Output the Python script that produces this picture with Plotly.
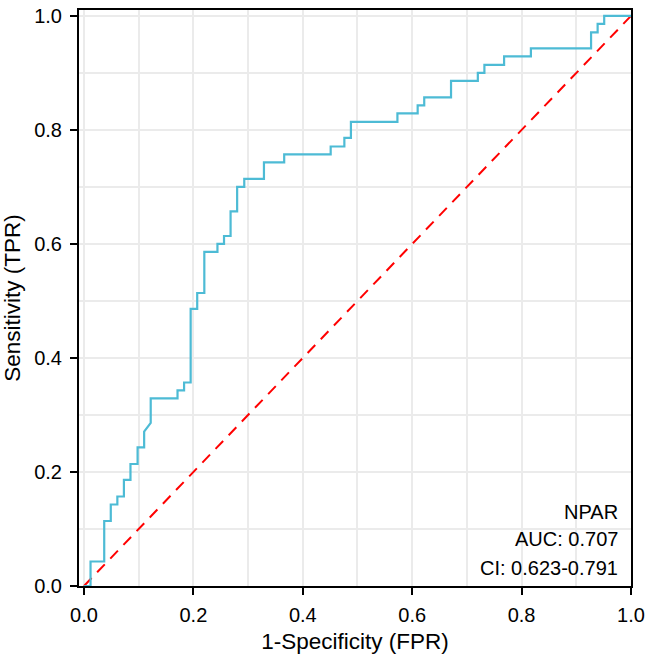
import plotly.graph_objects as go

# ROC curve points (1-specificity, sensitivity)
fpr = [0.0, 0.012, 0.012, 0.037, 0.037, 0.049, 0.049, 0.061, 0.061, 0.073, 0.073,
       0.085, 0.085, 0.098, 0.098, 0.110, 0.110, 0.122, 0.122, 0.171, 0.171,
       0.183, 0.183, 0.195, 0.195, 0.207, 0.207, 0.220, 0.220, 0.244, 0.244,
       0.256, 0.256, 0.268, 0.268, 0.280, 0.280, 0.293, 0.293, 0.329, 0.329,
       0.366, 0.366, 0.451, 0.451, 0.476, 0.476, 0.488, 0.488, 0.573, 0.573,
       0.610, 0.610, 0.622, 0.622, 0.671, 0.671, 0.720, 0.720, 0.732, 0.732,
       0.768, 0.768, 0.817, 0.817, 0.927, 0.927, 0.939, 0.939, 0.951, 0.951, 1.0]
tpr = [0.0, 0.0, 0.043, 0.043, 0.114, 0.114, 0.143, 0.143, 0.157, 0.157, 0.186,
       0.186, 0.214, 0.214, 0.243, 0.243, 0.271, 0.286, 0.329, 0.329, 0.343,
       0.343, 0.357, 0.357, 0.486, 0.486, 0.514, 0.514, 0.586, 0.586, 0.600,
       0.600, 0.614, 0.614, 0.657, 0.657, 0.700, 0.700, 0.714, 0.714, 0.743,
       0.743, 0.757, 0.757, 0.771, 0.771, 0.786, 0.786, 0.814, 0.814, 0.829,
       0.829, 0.843, 0.843, 0.857, 0.857, 0.886, 0.886, 0.900, 0.900, 0.914,
       0.914, 0.929, 0.929, 0.943, 0.943, 0.971, 0.971, 0.986, 0.986, 1.0, 1.0]

ref_x = [0.0, 1.0]
ref_y = [0.0, 1.0]

marker_name = "NPAR"
auc_text = "AUC: 0.707"
ci_text = "CI: 0.623-0.791"

tick_vals = [0.0, 0.2, 0.4, 0.6, 0.8, 1.0]
tick_text = ["0.0", "0.2", "0.4", "0.6", "0.8", "1.0"]

FONT = "Liberation Sans, Arial, sans-serif"

fig = go.Figure()
fig.add_trace(go.Scatter(x=ref_x, y=ref_y, mode="lines",
                         line=dict(color="#FF0000", width=2, dash="11px,8px"),
                         showlegend=False, hoverinfo="skip"))
fig.add_trace(go.Scatter(x=fpr, y=tpr, mode="lines",
                         line=dict(color="#4DBBD5", width=2.2),
                         showlegend=False))

axis_common = dict(
    showline=True, mirror=True, linecolor="black", linewidth=2,
    ticks="outside", ticklen=7, tickwidth=1.5, tickcolor="black",
    showgrid=True, gridcolor="#EBEBEB", gridwidth=1.5,
    minor=dict(dtick=0.1, showgrid=True, gridcolor="#EBEBEB", gridwidth=1.5, ticks=""),
    tickvals=tick_vals, ticktext=tick_text,
    tickfont=dict(family=FONT, size=20, color="black"),
    zeroline=False,
)

fig.update_layout(
    width=650, height=655,
    margin=dict(l=79, r=17, t=5, b=69),
    plot_bgcolor="white", paper_bgcolor="white",
    xaxis=dict(range=[-0.0091, 1.0], **axis_common, ticklabelstandoff=3,
               title=dict(text="1-Specificity (FPR)", standoff=8,
                          font=dict(family=FONT, size=22.5, color="black"))),
    yaxis=dict(range=[0.0, 1.0104], **axis_common, ticklabelstandoff=4,
               title=dict(text="Sensitivity (TPR)", standoff=9,
                          font=dict(family=FONT, size=22.5, color="black"))),
    font=dict(family=FONT),
)

for txt, yv in [(marker_name, 0.129), (auc_text, 0.0817), (ci_text, 0.031)]:
    fig.add_annotation(x=0.979, y=yv, xref="x", yref="y", text=txt,
                       showarrow=False, xanchor="right", yanchor="middle",
                       font=dict(family=FONT, size=20, color="black"))

fig.write_html("out.html")
